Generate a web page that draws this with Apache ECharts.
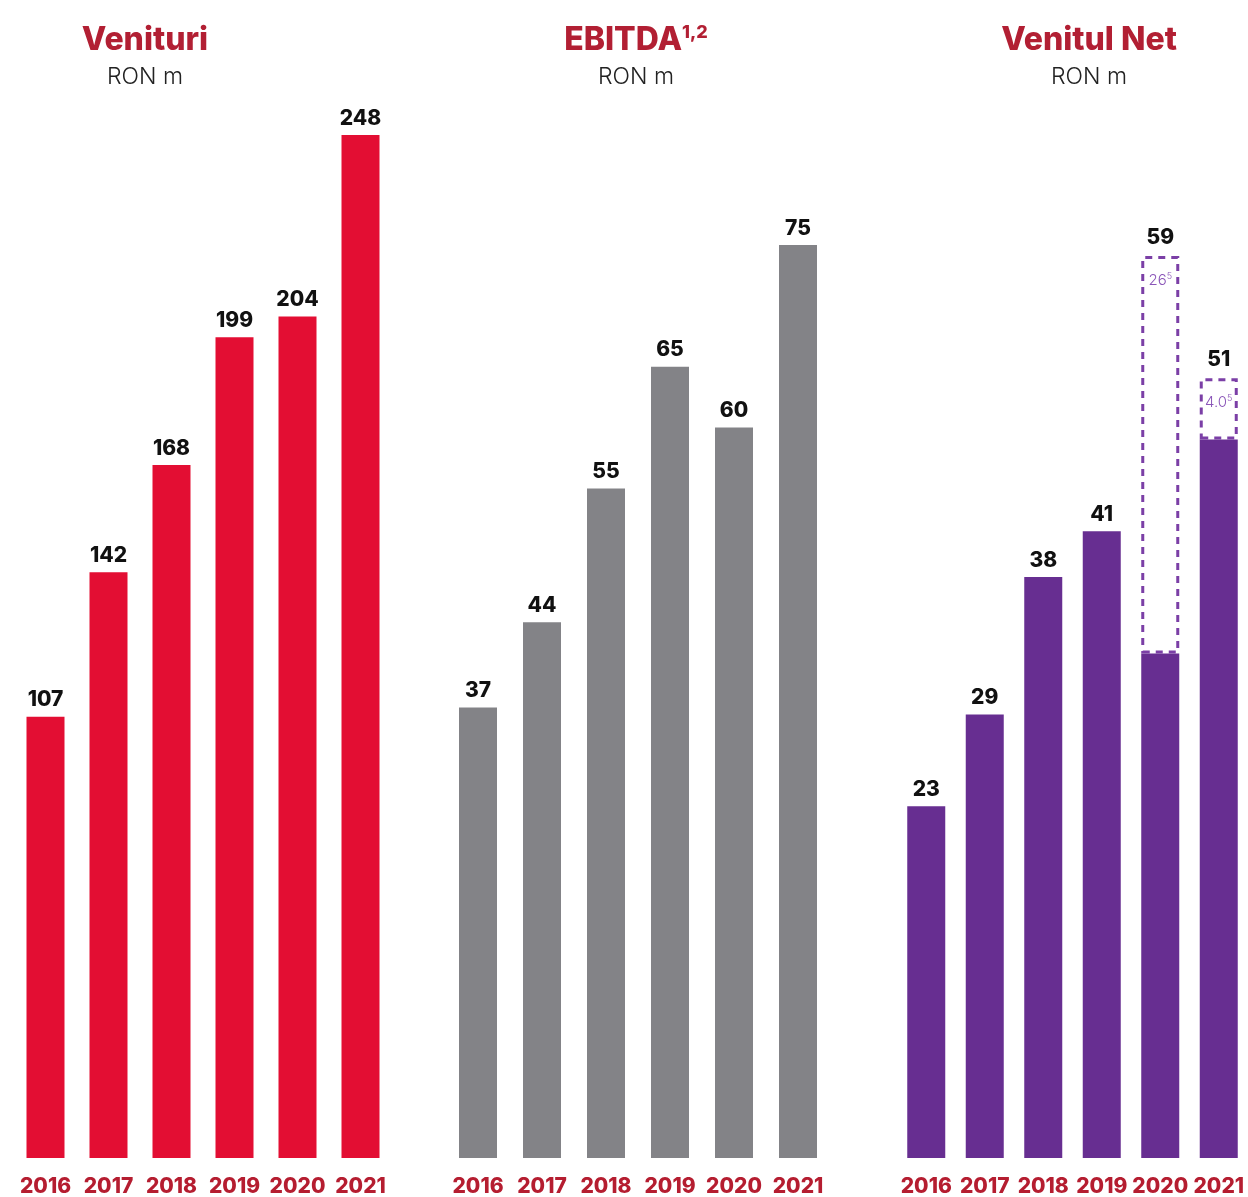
<!DOCTYPE html>
<html><head><meta charset="utf-8">
<script src="https://cdn.jsdelivr.net/npm/echarts@6/dist/echarts.min.js"></script>
<style>html,body{margin:0;padding:0;background:#fff}#c{width:1248px;height:1197px}</style>
</head><body><div id="c"></div>
<script>
const years = ['2016','2017','2018','2019','2020','2021'];
const venituri = [107,142,168,199,204,248];
const ebitda = [37,44,55,65,60,75];
const netBase = [23,29,38,41,33,47];
const netOneOff = [null,null,null,null,26,4.0];
const netTotal = [23,29,38,41,59,51];
const oneOffLabels = ['','','','','26','4.0'];

const FONT = 'Inter';
const labelRed = '#b51d30';
const titleRed = '#b21f33';

const chart = echarts.init(document.getElementById('c'), null, {renderer:'canvas'});

function xAxis(gi){
  return {type:'category', gridIndex:gi, data:years,
    axisLine:{show:false}, axisTick:{show:false},
    axisLabel:{color:labelRed, fontFamily:FONT, fontWeight:800, fontSize:21, margin:18, interval:0}};
}
function yAxis(gi,max){
  return {type:'value', gridIndex:gi, min:0, max:max, show:false, splitLine:{show:false}};
}
const valLabel = {show:true, position:'top', distance:6, color:'#111', fontFamily:FONT, fontWeight:800, fontSize:21};
const subStyle = {color:'#222', fontFamily:FONT, fontWeight:300, fontSize:23};
const titleStyle = {color:titleRed, fontFamily:FONT, fontWeight:800, fontSize:32};

const option = {
  animation:false,
  title:[
    {text:'Venituri', subtext:'RON m', left:140, top:19, textAlign:'center',
      textStyle:titleStyle, subtextStyle:subStyle, itemGap:10},
    {text:'{m|EBITDA}{s|1,2}', subtext:'RON m', left:631, top:19, textAlign:'center',
      textStyle:{rich:{m:titleStyle,
        s:{color:titleRed, fontFamily:FONT, fontWeight:800, fontSize:18, verticalAlign:'top', padding:[0,0,14,0]}}},
      subtextStyle:subStyle, itemGap:10},
    {text:'Venitul Net', subtext:'RON m', left:1084, top:19, textAlign:'center',
      textStyle:titleStyle, subtextStyle:subStyle, itemGap:10}
  ],
  grid:[
    {left:14, width:378, top:100, bottom:39},
    {left:446, width:384, top:100, bottom:39},
    {left:897, width:353, top:100, bottom:39}
  ],
  xAxis:[xAxis(0), xAxis(1), xAxis(2)],
  yAxis:[yAxis(0,256.5), yAxis(1,86.9), yAxis(2,69.2)],
  series:[
    {type:'bar', xAxisIndex:0, yAxisIndex:0, data:venituri, barWidth:38,
      itemStyle:{color:'#e30e33'}, label:valLabel},
    {type:'bar', xAxisIndex:1, yAxisIndex:1, data:ebitda, barWidth:38,
      itemStyle:{color:'#838387'}, label:valLabel},
    {type:'bar', xAxisIndex:2, yAxisIndex:2, data:netBase, barWidth:38, stack:'net',
      itemStyle:{color:'#672e91'},
      label:Object.assign({}, valLabel, {formatter:p => netOneOff[p.dataIndex] == null ? String(p.value) : ''})},
    {type:'bar', xAxisIndex:2, yAxisIndex:2, data:netOneOff, barWidth:38, stack:'net',
      itemStyle:{color:'rgba(255,255,255,0)', borderColor:'#7b3fa6', borderWidth:3, borderType:[7,6]},
      label:{show:true, position:'insideTop', distance:16,
        formatter:p => '{a|' + oneOffLabels[p.dataIndex] + '}{b|5}',
        rich:{a:{color:'#8a55b8', fontFamily:FONT, fontWeight:300, fontSize:15},
              b:{color:'#8a55b8', fontFamily:FONT, fontWeight:300, fontSize:9, verticalAlign:'top', padding:[0,0,8,0]}}}},
    {type:'bar', xAxisIndex:2, yAxisIndex:2, barGap:'-100%', barWidth:38, z:1,
      data:netTotal.map((v,i) => netOneOff[i] == null ? null : v),
      itemStyle:{color:'rgba(0,0,0,0)'}, label:Object.assign({}, valLabel, {distance:8})}
  ]
};
chart.setOption(option);
</script></body></html>
